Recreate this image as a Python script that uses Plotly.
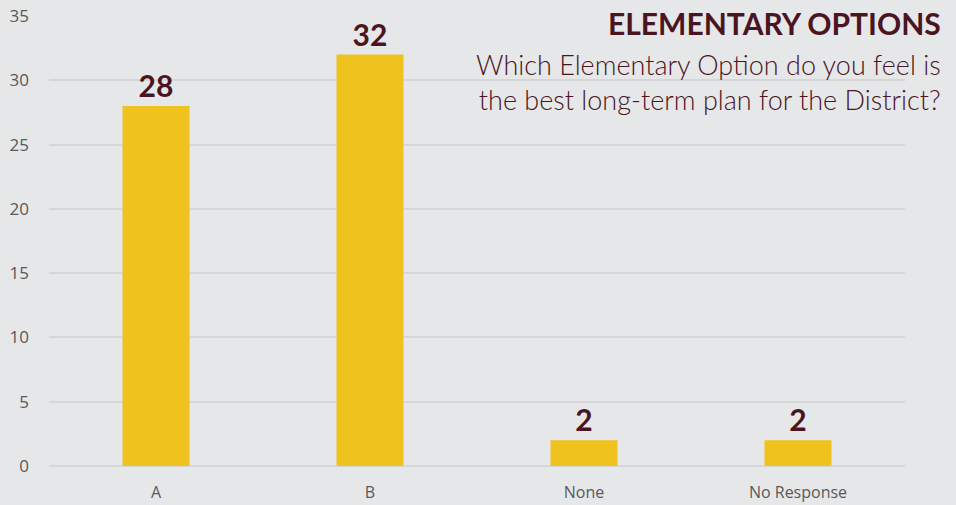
import plotly.graph_objects as go

categories = ["A", "B", "None", "No Response"]
counts = [28, 32, 2, 2]
y_ticks = [0, 5, 10, 15, 20, 25, 30, 35]

bar_color = "#f0c21e"
maroon = "#4a1520"
bg = "#e6e7e9"

fig = go.Figure(
    go.Bar(
        x=categories,
        y=counts,
        marker=dict(color=bar_color, line=dict(width=0)),
        text=[str(v) for v in counts],
        textposition="outside",
        textfont=dict(family="Lato", size=30, color=maroon, weight="bold"),
        cliponaxis=False,
    )
)

fig.update_layout(
    width=956,
    height=505,
    paper_bgcolor=bg,
    plot_bgcolor=bg,
    margin=dict(l=49, r=51, t=16, b=39),
    bargap=0.687,
    showlegend=False,
    font=dict(family="Open Sans", color="#595959"),
)
fig.update_xaxes(
    showgrid=False,
    showline=False,
    tickfont=dict(size=16, color="#595959"),
    ticks="",
    ticklabelstandoff=15,
    automargin=False,
)
fig.update_yaxes(
    range=[0, 35],
    tickvals=y_ticks,
    showgrid=True,
    gridcolor="#d5d6d8",
    gridwidth=1.5,
    zeroline=True,
    zerolinecolor="#d5d6d8",
    zerolinewidth=1.5,
    tickfont=dict(size=17, color="#595959"),
    ticks="",
    ticklabelstandoff=19,
    automargin=False,
)

# titulo en la esquina superior derecha
fig.add_annotation(
    xref="paper", yref="paper",
    x=1.044, y=0.984,
    xanchor="right", yanchor="middle",
    text="<b>ELEMENTARY OPTIONS</b>",
    showarrow=False,
    font=dict(family="Lato", size=30, color=maroon),
)
fig.add_annotation(
    xref="paper", yref="paper",
    x=1.044, y=0.853,
    xanchor="right", yanchor="middle",
    align="right",
    text="Which Elementary Option do you feel is<br>the best long-term plan for the District?",
    showarrow=False,
    font=dict(family="Lato", size=27, color=maroon, weight=300),
)

# quitar el margen del body para que la figura ocupe toda la ventana
fig.write_html(
    "out.html",
    config={"displayModeBar": False},
    post_script="document.body.style.margin='0';",
)
